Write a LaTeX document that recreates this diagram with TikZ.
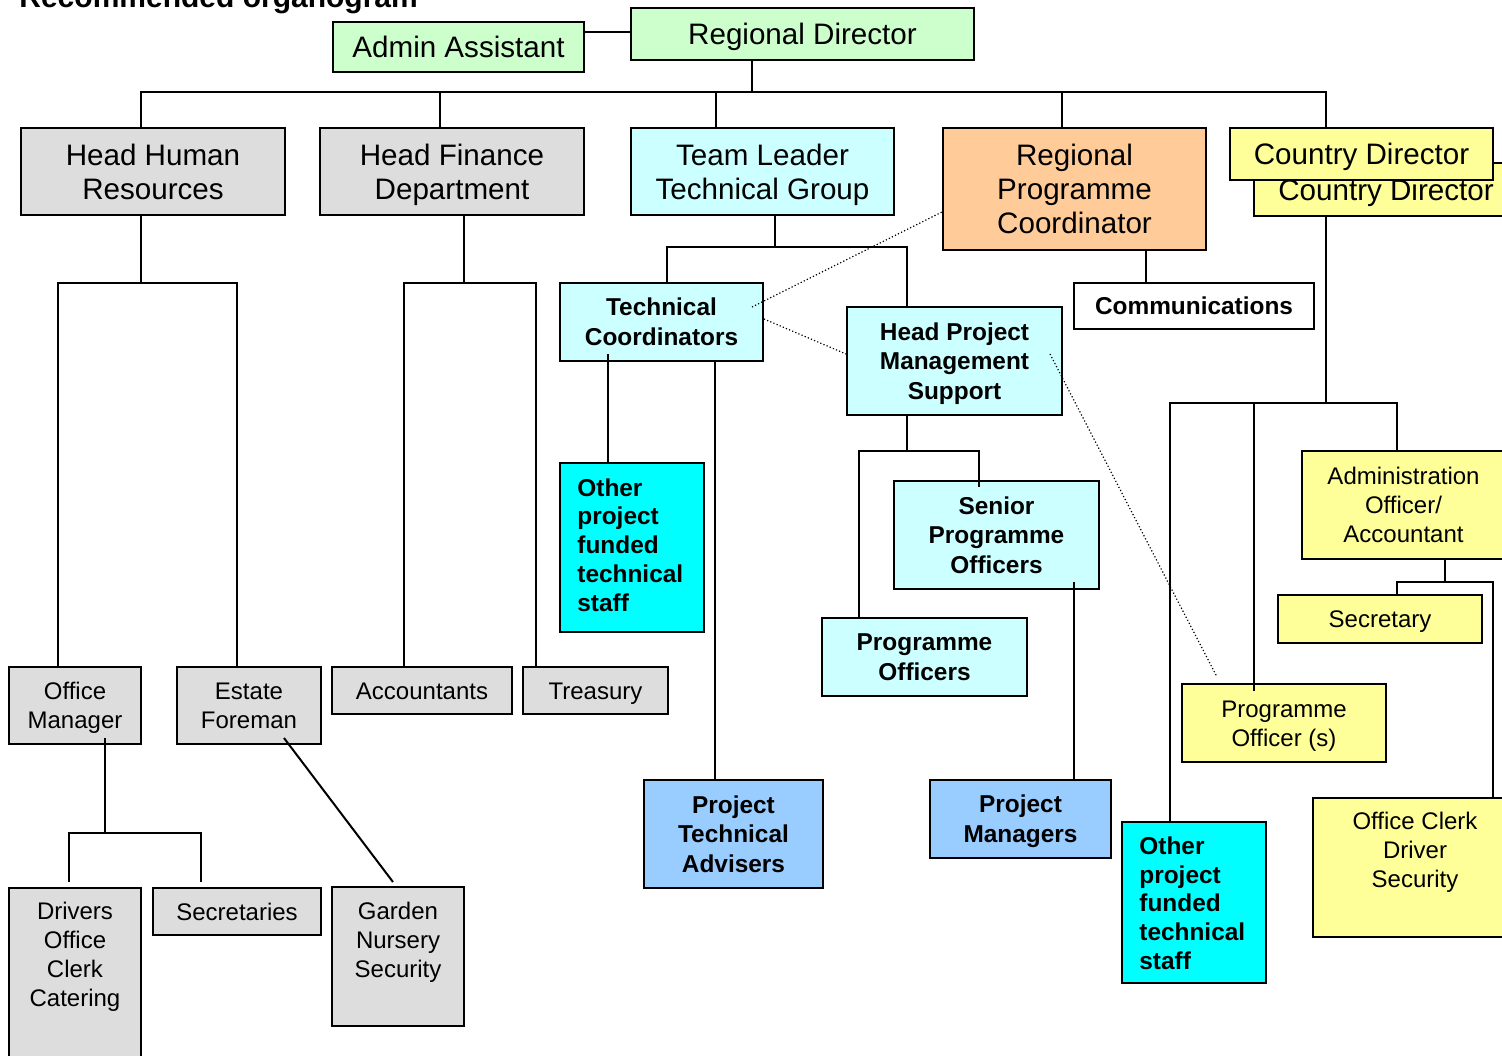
\documentclass[tikz,border=0pt]{standalone}
\usepackage{fontspec}
\setmainfont{Liberation Sans}
\definecolor{cgreen}{HTML}{CCFFCC}
\definecolor{cgray}{HTML}{DDDDDD}
\definecolor{clcyan}{HTML}{CCFFFF}
\definecolor{corange}{HTML}{FFCC99}
\definecolor{cyellow}{HTML}{FFFF99}
\definecolor{ccyan}{HTML}{00FFFF}
\definecolor{cblue}{HTML}{99CCFF}
\newcommand\sst{\rule[-0.21em]{0pt}{1.14em}}
\newcommand\orgbox[7]{\node[box,#6,minimum width={(#4-#2)*0.5pt},minimum height={(#5-#3)*0.5pt}] (#1) at ({(#2+#4)/2},{(#3+#5)/2}) {\sst#7\sst};}
\begin{document}
\begin{tikzpicture}[x=0.5pt,y=-0.5pt,
  box/.style={draw=black,line width=1pt,inner sep=0pt,align=center},
  big/.style={font=\fontsize{14.8}{17}\selectfont},
  mid/.style={font=\fontsize{12}{14.5}\selectfont},
  bld/.style={font=\fontsize{12.2}{14.8}\selectfont\bfseries},
  conn/.style={line width=1pt,black},
  dconn/.style={line width=0.6pt,black,dash pattern=on 0.6pt off 1.1pt},
  txt/.style={inner sep=0pt}]
\useasboundingbox (0,0) rectangle (1502,1055);
\clip (0,0) rectangle (1502,1055);
\fill[white] (0,0) rectangle (1502,1055);

\node[anchor=base west,inner sep=0pt,font=\fontsize{15}{18}\selectfont\bfseries] (title) at (19,7) {Recommended organogram};

% top level
\orgbox{rd}{631}{8}{974}{60}{fill=cgreen,big}{Regional Director}
\orgbox{aa}{333}{22}{584}{72}{fill=cgreen,big}{Admin Assistant}
\orgbox{hhr}{21}{128}{285}{215}{fill=cgray,big}{Head Human\\Resources}
\orgbox{hfd}{320}{128}{584}{215}{fill=cgray,big}{Head Finance\\Department}
\orgbox{tltg}{631}{128}{894}{215}{fill=clcyan,big}{Team Leader\\Technical Group}
\orgbox{rpc}{943}{128}{1206}{250}{fill=corange,big}{Regional\\Programme\\Coordinator}
\orgbox{cdb}{1254}{163}{1518}{216}{fill=cyellow,big}{Country Director}
\orgbox{cdf}{1230}{128}{1493}{180}{fill=cyellow,big}{Country Director}

% HR branch
\orgbox{om}{9}{667}{141}{744}{fill=cgray,mid}{Office\\Manager}
\orgbox{ef}{177}{667}{321}{744}{fill=cgray,mid}{Estate\\Foreman}
\orgbox{drv}{9}{888}{141}{1080}{fill=cgray}{}
\node[txt,mid,align=center] (drv-t) at (75,954) {\sst Drivers\\Office\\Clerk\\Catering\sst};
\orgbox{secs}{153}{888}{321}{935}{fill=cgray,mid}{Secretaries}
\orgbox{gns}{332}{887}{464}{1026}{fill=cgray}{}
\node[txt,mid,align=center] (gns-t) at (398,940) {\sst Garden\\Nursery\\Security\sst};

% Finance branch
\orgbox{acc}{332}{667}{512}{714}{fill=cgray,mid}{Accountants}
\orgbox{tre}{523}{667}{668}{714}{fill=cgray,mid}{Treasury}

% Technical group
\orgbox{tc}{560}{283}{763}{361}{fill=clcyan,bld}{Technical\\Coordinators}
\orgbox{hpms}{847}{307}{1062}{415}{fill=clcyan,bld}{Head Project\\Management\\Support}
\orgbox{opl}{560}{463}{704}{632}{fill=ccyan}{}
\node[txt,align=left,anchor=west,font=\fontsize{12.2}{14.4}\selectfont\bfseries] (opl-t) at (577,545) {\sst Other\\project\\funded\\technical\\staff\sst};
\orgbox{pta}{644}{780}{823}{888}{fill=cblue,bld}{Project\\Technical\\Advisers}
\orgbox{spo}{894}{481}{1099}{589}{fill=clcyan,bld}{Senior\\Programme\\Officers}
\orgbox{po}{822}{618}{1027}{696}{fill=clcyan,bld}{Programme\\Officers}
\orgbox{pm}{930}{780}{1111}{858}{fill=cblue,bld}{Project\\Managers}
\orgbox{comm}{1074}{283}{1314}{329}{fill=white,bld}{Communications}

% Country director branch
\orgbox{aoa}{1302}{451}{1505}{559}{fill=cyellow,mid}{Administration\\Officer/\\Accountant}
\orgbox{sec}{1278}{595}{1482}{643}{fill=cyellow,mid}{Secretary}
\orgbox{pos}{1182}{684}{1386}{762}{fill=cyellow,mid}{Programme\\Officer (s)}
\orgbox{opr}{1122}{822}{1266}{983}{fill=ccyan}{}
\node[txt,align=left,anchor=west,font=\fontsize{12.2}{14.4}\selectfont\bfseries] (opr-t) at (1139,903) {\sst Other\\project\\funded\\technical\\staff\sst};
\orgbox{ocd}{1313}{798}{1530}{937}{fill=cyellow}{}
\node[txt,mid,align=center] (ocd-t) at (1415,850) {\sst Office Clerk\\Driver\\Security\sst};

% connectors
\draw[conn] (aa.east |- 0,32) -- (rd.west |- 0,32);
\draw[conn] (rd.south -| 752,0) -- (752,92);
\draw[conn] (hhr.north -| 141,0) -- (141,92) -- (1326,92) -- (cdf.north -| 1326,0);
\draw[conn] (440,92) -- (hfd.north -| 440,0);
\draw[conn] (716,92) -- (tltg.north -| 716,0);
\draw[conn] (1062,92) -- (rpc.north -| 1062,0);
\draw[conn] (cdb.south -| 1326,0) -- (1326,403);
\draw[conn] (opr.north -| 1170,0) -- (1170,403) -- (1397,403) -- (aoa.north -| 1397,0);
\draw[conn] (1254,403) -- (1254,691);
\draw[conn] (aoa.south -| 1445,0) -- (1445,582);
\draw[conn] (sec.north -| 1397,0) -- (1397,582) -- (1493,582) -- (ocd.north -| 1493,0);
\draw[conn] (rpc.south -| 1146,0) -- (comm.north -| 1146,0);

\draw[conn] (hhr.south -| 141,0) -- (141,283);
\draw[conn] (om.north -| 58,0) -- (58,283) -- (237,283) -- (ef.north -| 237,0);
\draw[conn] (hfd.south -| 464,0) -- (464,283);
\draw[conn] (acc.north -| 404,0) -- (404,283) -- (536,283) -- (tre.north -| 536,0);
\draw[conn] (105,738) -- (105,833);
\draw[conn] (69,882) -- (69,833) -- (201,833) -- (201,882);
\draw[conn] (284,738) -- (393,882);

\draw[conn] (tltg.south -| 775,0) -- (775,247);
\draw[conn] (tc.north -| 667,0) -- (667,247) -- (907,247) -- (hpms.north -| 907,0);
\draw[conn] (608,354) -- (opl.north -| 608,0);
\draw[conn] (tc.south -| 715,0) -- (pta.north -| 715,0);
\draw[conn] (hpms.south -| 907,0) -- (907,451);
\draw[conn] (po.north -| 859,0) -- (859,451) -- (979,451) -- (979,487);
\draw[conn] (1074,582) -- (pm.north -| 1074,0);

% dotted relations
\draw[dconn] (752,307) -- (rpc.west |- 0,212);
\draw[dconn] (tc.east |- 0,319) -- (hpms.west |- 0,354);
\draw[dconn] (1050,354) -- (1217,677);
\end{tikzpicture}
\end{document}
